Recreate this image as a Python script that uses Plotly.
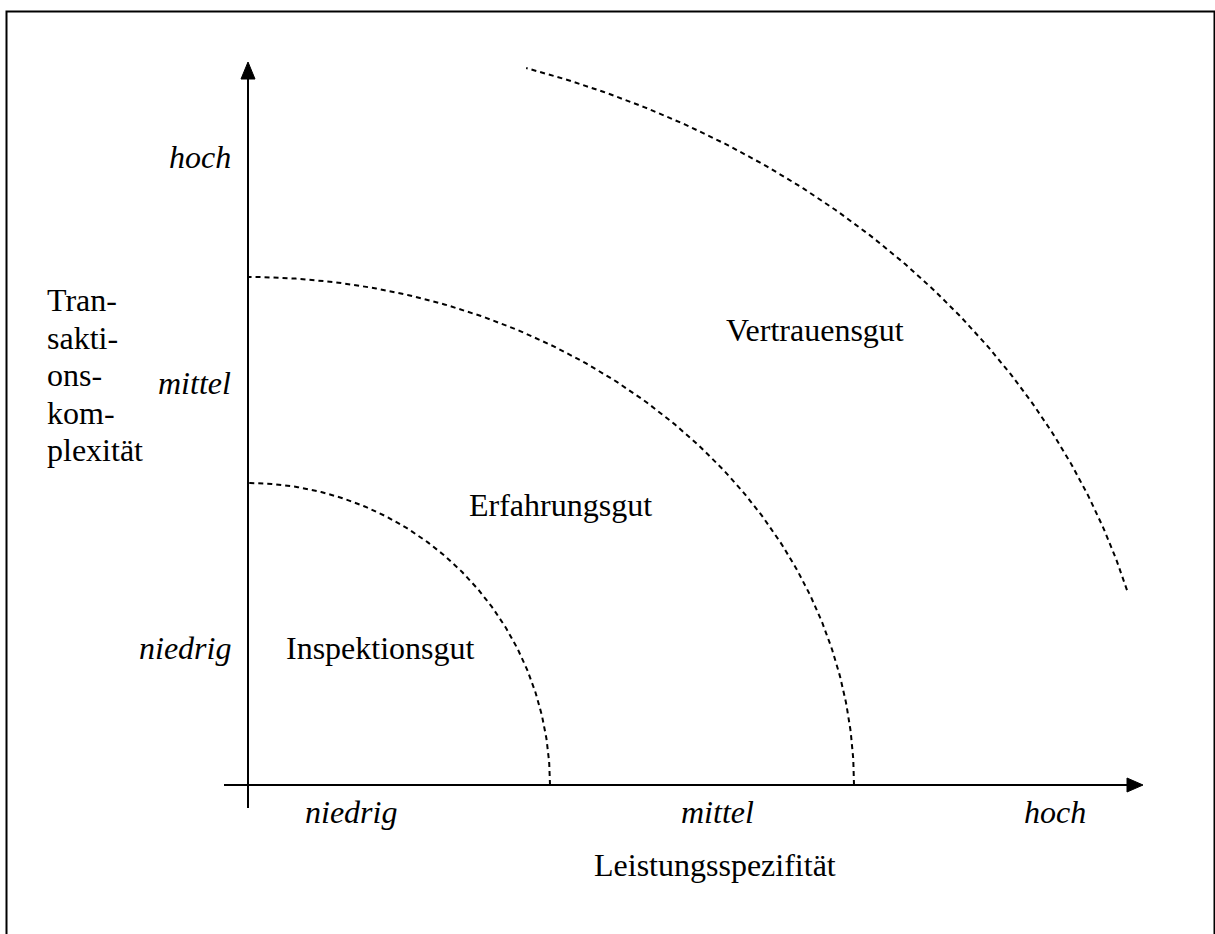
import numpy as np
import plotly.graph_objects as go

# ---- data (diagram coordinates, origin = axis crossing, 1 unit ~ 1 px) ----
region_names = ["Inspektionsgut", "Erfahrungsgut", "Vertrauensgut"]
arc_rx = [302, 606, 910]          # boundary half-width along Leistungsspezifität
arc_ry = [302, 508, 753]          # boundary half-height along Transaktionskomplexität
arc_t0 = [0.0, 0.0, 15.0]         # start angle (deg)
arc_t1 = [90.0, 90.0, 72.2]       # end angle (deg)
region_x = [132, 312, 567]
region_y = [137, 280, 455]

x_ticks = ["niedrig", "mittel", "hoch"]
x_tick_pos = [103, 469, 807]
y_ticks = ["niedrig", "mittel", "hoch"]
y_tick_pos = [137, 402, 628]

x_title = "Leistungsspezifität"
y_title_lines = ["Tran-", "sakti-", "ons-", "kom-", "plexität"]

W, H = 1215, 934
OX, OY = 248, 785  # pixel position of origin

FONT = "Liberation Serif, Times New Roman, serif"
FS = 32

fig = go.Figure()

for rx, ry, t0, t1 in zip(arc_rx, arc_ry, arc_t0, arc_t1):
    t = np.radians(np.linspace(t0, t1, 200))
    fig.add_trace(go.Scatter(
        x=rx * np.cos(t), y=ry * np.sin(t), mode="lines",
        line=dict(color="black", width=2, dash="5px,4px"),
        hoverinfo="skip", showlegend=False))

# axes lines
fig.add_shape(type="line", x0=-24, y0=0, x1=882, y1=0,
              line=dict(color="black", width=2))
fig.add_shape(type="line", x0=0, y0=-23, x1=0, y1=708,
              line=dict(color="black", width=2))
# arrow heads
fig.add_shape(type="path", path="M 879,-7 L 895,0 L 879,7 Z",
              fillcolor="black", line=dict(color="black", width=1))
fig.add_shape(type="path", path="M -7,706 L 0,723 L 7,706 Z",
              fillcolor="black", line=dict(color="black", width=1))

# frame
fig.add_shape(type="rect", xref="paper", yref="paper",
              x0=6.5 / W, x1=1214.5 / W, y0=-0.05, y1=1 - 11.5 / H,
              line=dict(color="black", width=2))

ann = []
for name, x, y in zip(region_names, region_x, region_y):
    ann.append(dict(x=x, y=y, text=name, showarrow=False,
                    font=dict(family=FONT, size=FS, color="black")))
for lab, x in zip(x_ticks, x_tick_pos):
    ann.append(dict(x=x, y=-27, text=f"<i>{lab}</i>", showarrow=False,
                    font=dict(family=FONT, size=FS, color="black")))
for lab, y in zip(y_ticks, y_tick_pos):
    ann.append(dict(x=-15, y=y, text=f"<i>{lab}</i>", showarrow=False,
                    xanchor="right",
                    font=dict(family=FONT, size=FS, color="black")))
ann.append(dict(x=467, y=-80, text=x_title, showarrow=False,
                font=dict(family=FONT, size=FS, color="black")))
for i, line in enumerate(y_title_lines):
    ann.append(dict(x=-203, y=485 - i * 37.5, text=line, showarrow=False,
                    xanchor="left",
                    font=dict(family=FONT, size=FS, color="black")))

fig.update_layout(
    width=W, height=H,
    margin=dict(l=0, r=0, t=0, b=0),
    paper_bgcolor="white", plot_bgcolor="white",
    xaxis=dict(range=[-OX, W - OX], visible=False, fixedrange=True),
    yaxis=dict(range=[OY - H, OY], visible=False, fixedrange=True),
    annotations=ann, showlegend=False,
)

fig.write_html("out.html", config={"displayModeBar": False},
               post_script="document.body.style.margin='0px';document.body.style.overflow='hidden';")
